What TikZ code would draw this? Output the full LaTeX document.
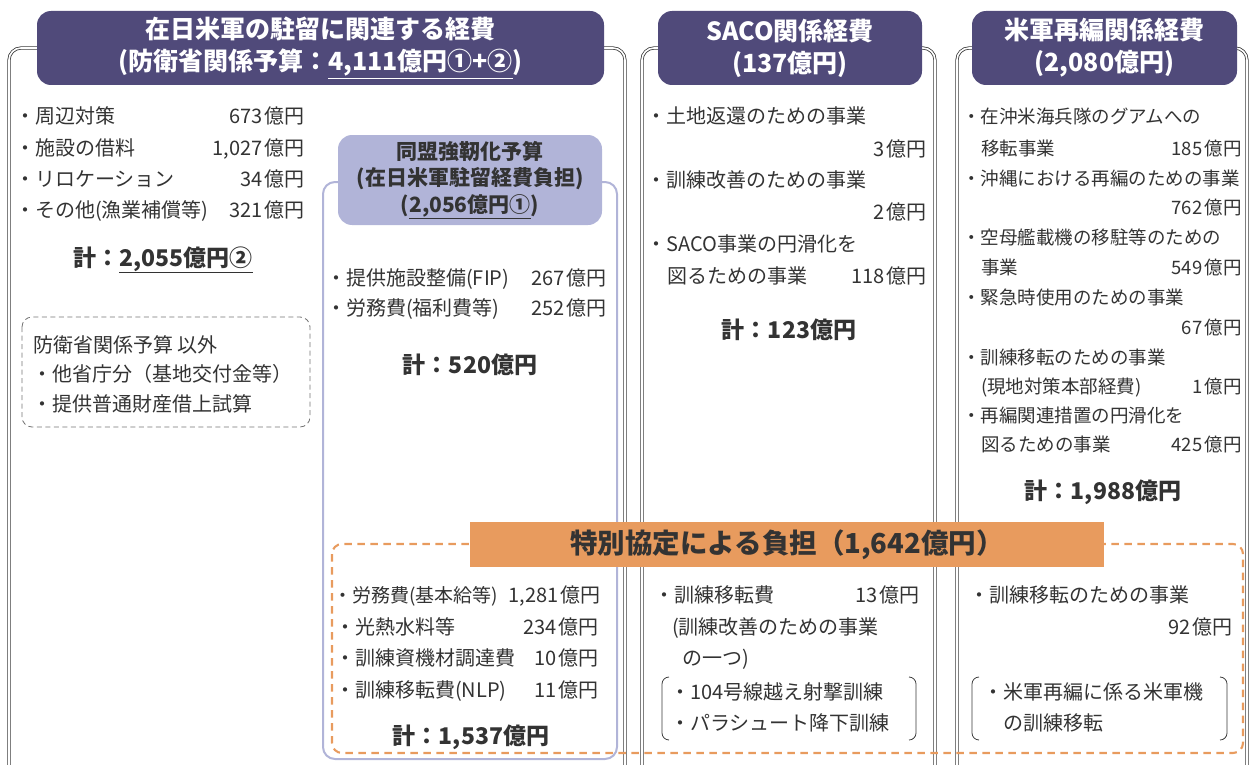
\documentclass[tikz,border=0pt]{standalone}
\usepackage{fontspec}
\setmainfont{Noto Sans CJK JP}
\definecolor{hdr}{HTML}{504A7A}
\definecolor{lav}{HTML}{B1B4D8}
\definecolor{org}{HTML}{E89B5E}
\definecolor{txt}{HTML}{333333}
\definecolor{frm}{HTML}{3A3A3A}
\newcommand{\bodyf}{\fontsize{20}{24}\selectfont}
\newcommand{\smallbodyf}{\fontsize{18.5}{22}\selectfont}
\newcommand{\totf}{\fontsize{23}{27}\selectfont\bfseries}
\newcommand{\oku}{\hspace{2.5pt}億円}
\tikzset{
  dbl/.style={draw=frm, line width=0.8pt, double=white, double distance=1.6pt},
  hdrbox/.style={fill=hdr, rounded corners=14pt, text=white, align=center, inner sep=0pt,
    font=\fontsize{25}{32}\selectfont\bfseries},
  lavbox/.style={fill=lav, rounded corners=14pt, text=txt, align=center, inner sep=0pt,
    font=\fontsize{21}{26.5}\selectfont\bfseries},
  orgband/.style={fill=org, text=txt, inner sep=0pt, font=\fontsize{27.5}{30}\selectfont\bfseries},
  lt/.style={anchor=base west, inner sep=0pt, font=\bodyf, text=txt},
  rt/.style={anchor=base east, inner sep=0pt, font=\bodyf, text=txt},
  slt/.style={lt, font=\smallbodyf},
  srt/.style={rt, font=\smallbodyf},
  tot/.style={anchor=base, inner sep=0pt, font=\totf, text=txt},
  lavframe/.style={draw=lav, line width=2pt, rounded corners=12pt},
  orgdash/.style={draw=org, line width=2.1pt, dash pattern=on 7.5pt off 5.5pt, rounded corners=10pt},
  graydash/.style={draw=black!55, line width=0.8pt, dash pattern=on 5pt off 3.5pt, rounded corners=10pt},
  brk/.style={draw=frm, line width=0.8pt, rounded corners=7pt}
}
\begin{document}
\begin{tikzpicture}[x=1pt,y=-1pt]
\useasboundingbox (0,0) rectangle (1252,765);
\clip (0,0) rectangle (1252,765);

% frames
\draw[dbl, rounded corners=12pt] (9,775) -- (9,48) -- (625,48) -- (625,775);
\draw[dbl, rounded corners=12pt] (642,775) -- (642,48) -- (935,48) -- (935,775);
\draw[dbl, rounded corners=12pt] (957,775) -- (957,48) -- (1247,48) -- (1247,775);

% lavender frame
\draw[lavframe] (323,182) rectangle (617,759);
% grey dashed box
\draw[graydash] (22,317) rectangle (310,427);
% orange dashed box
\draw[orgdash] (332,544) rectangle (1243,753);
% brackets
\draw[brk] (669,677) -- (662,677) -- (662,740) -- (669,740);
\draw[brk] (909,677) -- (916,677) -- (916,740) -- (909,740);
\draw[brk] (979,677) -- (972,677) -- (972,740) -- (979,740);
\draw[brk] (1220,677) -- (1227,677) -- (1227,740) -- (1220,740);

% headers
\node[hdrbox, minimum width=567pt, minimum height=74pt] (h1) at (320.5,48)
  {在日米軍の駐留に関連する経費\\(防衛省関係予算：\underline{4,111億円①+②})};
\node[hdrbox, minimum width=264pt, minimum height=74pt] (h2) at (790,48)
  {SACO関係経費\\(137億円)};
\node[hdrbox, minimum width=265pt, minimum height=74pt] (h3) at (1104.5,48)
  {米軍再編関係経費\\(2,080億円)};
\node[lavbox, minimum width=264pt, minimum height=90pt] (h4) at (470,180)
  {同盟強靭化予算\\(在日米軍駐留経費負担)\\(\underline{2,056億円①})};

% orange band
\node[orgband, minimum width=634pt, minimum height=45pt] (band) at (787,544.5)
  {特別協定による負担（1,642億円）};

% left column
\node[lt] (a1) at (15,124) {・周辺対策};
\node[rt] (a1v) at (305,124) {673\oku};
\node[lt] (a2) at (15,155) {・施設の借料};
\node[rt] (a2v) at (305,155) {1,027\oku};
\node[lt] (a3) at (15,186) {・リロケーション};
\node[rt] (a3v) at (305,186) {34\oku};
\node[lt] (a4) at (15,217) {・その他(漁業補償等)};
\node[rt] (a4v) at (305,217) {321\oku};
\node[tot] (at) at (163,266) {計：\underline{2,055億円②}};
\node[lt] (g1) at (33,352) {防衛省関係予算 以外};
\node[lt] (g2) at (32,381) {・他省庁分（基地交付金等）};
\node[lt] (g3) at (32,411) {・提供普通財産借上試算};

% middle (alliance)
\node[lt] (m1) at (326,285) {・提供施設整備(FIP)};
\node[rt] (m1v) at (607,285) {267\oku};
\node[lt] (m2) at (326,315) {・労務費(福利費等)};
\node[rt] (m2v) at (607,315) {252\oku};
\node[tot] (mt) at (470,373) {計：520億円};

\node[lt, font=\fontsize{19}{23}\selectfont] (s1) at (333,602) {・労務費(基本給等)};
\node[rt] (s1v) at (601,602) {1,281\oku};
\node[lt] (s2) at (335,634) {・光熱水料等};
\node[rt] (s2v) at (599,634) {234\oku};
\node[lt] (s3) at (335,665) {・訓練資機材調達費};
\node[rt] (s3v) at (599,665) {10\oku};
\node[lt] (s4) at (335,697) {・訓練移転費(NLP)};
\node[rt] (s4v) at (599,697) {11\oku};
\node[tot] (st) at (471,744) {計：1,537億円};

% SACO column
\node[lt] (b1) at (646,124) {・土地返還のための事業};
\node[rt] (b1v) at (927,156) {3\oku};
\node[lt] (b2) at (646,187) {・訓練改善のための事業};
\node[rt] (b2v) at (927,219) {2\oku};
\node[lt] (b3) at (646,251) {・SACO事業の円滑化を};
\node[lt] (b3b) at (667,283) {図るための事業};
\node[rt] (b3v) at (927,283) {118\oku};
\node[tot] (bt) at (789,338) {計：123億円};

\node[lt] (c1) at (654,602) {・訓練移転費};
\node[rt] (c1v) at (920,602) {13\oku};
\node[lt] (c2) at (672,634) {(訓練改善のための事業};
\node[lt] (c3) at (682,665) {の一つ)};
\node[lt] (c4) at (670,699) {・104号線越え射撃訓練};
\node[lt] (c5) at (670,730) {・パラシュート降下訓練};

% realignment column
\node[slt] (r1) at (962,124) {・在沖米海兵隊のグアムへの};
\node[slt] (r1b) at (981,155) {移転事業};
\node[srt] (r1v) at (1242,155) {185\oku};
\node[slt] (r2) at (962,185) {・沖縄における再編のための事業};
\node[srt] (r2v) at (1242,214) {762\oku};
\node[slt] (r3) at (962,244) {・空母艦載機の移駐等のための};
\node[slt] (r3b) at (981,274) {事業};
\node[srt] (r3v) at (1242,274) {549\oku};
\node[slt] (r4) at (962,304) {・緊急時使用のための事業};
\node[srt] (r4v) at (1242,334) {67\oku};
\node[slt] (r5) at (962,364) {・訓練移転のための事業};
\node[slt] (r5b) at (981,393) {(現地対策本部経費)};
\node[srt] (r5v) at (1242,393) {1\oku};
\node[slt] (r6) at (962,422) {・再編関連措置の円滑化を};
\node[slt] (r6b) at (981,451) {図るための事業};
\node[srt] (r6v) at (1242,451) {425\oku};
\node[tot] (rt1) at (1103,499) {計：1,988億円};

\node[lt] (d1) at (969,602) {・訓練移転のための事業};
\node[rt] (d1v) at (1233,634) {92\oku};
\node[lt] (d2) at (983,699) {・米軍再編に係る米軍機};
\node[lt] (d3) at (1003,730) {の訓練移転};
\end{tikzpicture}
\end{document}
